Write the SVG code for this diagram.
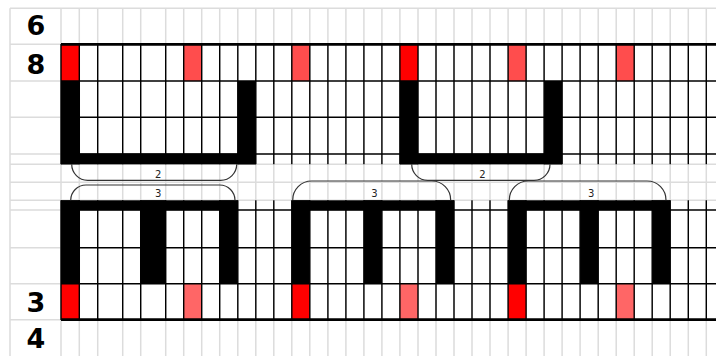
<svg xmlns="http://www.w3.org/2000/svg" width="716" height="356" viewBox="0 0 716 356">
<style>
.bg{fill:#ffffff}
.lg{stroke:#dcdcdc;stroke-width:1.5;fill:none}
.bk{stroke:#000;stroke-width:1.4;fill:none}
.thick{stroke:#000;stroke-width:2.8;fill:none}
.bar{fill:#000}
.r1{fill:#ff0000}
.r2{fill:#ff4d4d}
.r3{fill:#ff6666}
.br{stroke:#333;stroke-width:1.2;fill:none}
.big{font-family:"DejaVu Sans",sans-serif;font-weight:bold;font-size:27px;fill:#000;text-anchor:middle}
.sm{font-family:"DejaVu Sans",sans-serif;font-size:10px;fill:#222;text-anchor:middle}
</style>
<rect class="bg" x="0" y="0" width="716" height="356"/>
<g id="background-grid">
<path class="lg" d="M10 8.3V356M61 8.3V356M79.3 8.3V356M97.7 8.3V356M122.7 8.3V356M140.7 8.3V356M165.7 8.3V356M183.7 8.3V356M201.7 8.3V356M219.7 8.3V356M237.8 8.3V356M255.8 8.3V356M273.8 8.3V356M291.8 8.3V356M309.8 8.3V356M327.9 8.3V356M345.9 8.3V356M363.9 8.3V356M381.9 8.3V356M399.9 8.3V356M418 8.3V356M436 8.3V356M454 8.3V356M472 8.3V356M490 8.3V356M508.1 8.3V356M526.1 8.3V356M544.1 8.3V356M562.1 8.3V356M580.1 8.3V356M598.2 8.3V356M616.2 8.3V356M634.2 8.3V356M652.2 8.3V356M670.2 8.3V356M688.3 8.3V356M706.3 8.3V356"/>
<path class="lg" d="M10 8.3H716M10 44.3H61M10 81H61M10 117.3H61M10 154H61M10 164.3H716M10 182.3H716M10 200.3H716M10 210H61M10 247.7H61M10 283.7H61M10 319.7H61"/>
</g>
<g id="row-labels">
<text class="big" x="36" y="35">6</text>
<text class="big" x="36" y="74">8</text>
<text class="big" x="36" y="312">3</text>
<text class="big" x="36" y="348">4</text>
</g>
<g id="red-cells">
<rect class="r1" x="61" y="44.3" width="18.3" height="36.7"/>
<rect class="r2" x="183.7" y="44.3" width="18" height="36.7"/>
<rect class="r2" x="291.8" y="44.3" width="18" height="36.7"/>
<rect class="r1" x="399.9" y="44.3" width="18.1" height="36.7"/>
<rect class="r2" x="508.1" y="44.3" width="18" height="36.7"/>
<rect class="r2" x="616.2" y="44.3" width="18" height="36.7"/>
<rect class="r1" x="61" y="283.7" width="18.3" height="36"/>
<rect class="r3" x="183.7" y="283.7" width="18" height="36"/>
<rect class="r1" x="291.8" y="283.7" width="18" height="36"/>
<rect class="r3" x="399.9" y="283.7" width="18.1" height="36"/>
<rect class="r1" x="508.1" y="283.7" width="18" height="36"/>
<rect class="r3" x="616.2" y="283.7" width="18" height="36"/>
</g>
<g id="chart-upper">
<path class="bk" d="M61 44V164.3M79.3 44V164.3M97.7 44V164.3M122.7 44V164.3M140.7 44V164.3M165.7 44V164.3M183.7 44V164.3M201.7 44V164.3M219.7 44V164.3M237.8 44V164.3M255.8 44V164.3M273.8 44V164.3M291.8 44V164.3M309.8 44V164.3M327.9 44V164.3M345.9 44V164.3M363.9 44V164.3M381.9 44V164.3M399.9 44V164.3M418 44V164.3M436 44V164.3M454 44V164.3M472 44V164.3M490 44V164.3M508.1 44V164.3M526.1 44V164.3M544.1 44V164.3M562.1 44V164.3M580.1 44V164.3M598.2 44V164.3M616.2 44V164.3M634.2 44V164.3M652.2 44V164.3M670.2 44V164.3M688.3 44V164.3M706.3 44V164.3"/>
<path class="bk" d="M61 81H716M61 117.3H716M61 154H716"/>
<path class="thick" d="M61 44.3H716"/>
</g>
<g id="chart-lower">
<path class="bk" d="M61 200.3V320M79.3 200.3V320M97.7 200.3V320M122.7 200.3V320M140.7 200.3V320M165.7 200.3V320M183.7 200.3V320M201.7 200.3V320M219.7 200.3V320M237.8 200.3V320M255.8 200.3V320M273.8 200.3V320M291.8 200.3V320M309.8 200.3V320M327.9 200.3V320M345.9 200.3V320M363.9 200.3V320M381.9 200.3V320M399.9 200.3V320M418 200.3V320M436 200.3V320M454 200.3V320M472 200.3V320M490 200.3V320M508.1 200.3V320M526.1 200.3V320M544.1 200.3V320M562.1 200.3V320M580.1 200.3V320M598.2 200.3V320M616.2 200.3V320M634.2 200.3V320M652.2 200.3V320M670.2 200.3V320M688.3 200.3V320M706.3 200.3V320"/>
<path class="bk" d="M61 210H716M61 247.7H716M61 283.7H716"/>
<path class="thick" d="M61 319.7H716"/>
</g>
<g id="motif-u-1">
<rect class="bar" x="61" y="81" width="18.3" height="83.3"/>
<rect class="bar" x="61" y="153.5" width="194.8" height="10.8"/>
<rect class="bar" x="237.8" y="81" width="18" height="83.3"/>
</g>
<g id="motif-u-2">
<rect class="bar" x="399.9" y="81" width="18.1" height="83.3"/>
<rect class="bar" x="399.9" y="153.5" width="162.2" height="10.8"/>
<rect class="bar" x="544.1" y="81" width="18" height="83.3"/>
</g>
<g id="motif-t-1">
<rect class="bar" x="61" y="200.3" width="176.8" height="9.9"/>
<rect class="bar" x="61" y="200.3" width="18.3" height="83.4"/>
<rect class="bar" x="140.7" y="200.3" width="25" height="83.4"/>
<rect class="bar" x="219.7" y="200.3" width="18.1" height="83.4"/>
</g>
<g id="motif-t-2">
<rect class="bar" x="291.8" y="200.3" width="162.2" height="9.9"/>
<rect class="bar" x="291.8" y="200.3" width="18" height="83.4"/>
<rect class="bar" x="363.9" y="200.3" width="18" height="83.4"/>
<rect class="bar" x="436" y="200.3" width="18" height="83.4"/>
</g>
<g id="motif-t-3">
<rect class="bar" x="508.1" y="200.3" width="162.1" height="9.9"/>
<rect class="bar" x="508.1" y="200.3" width="18" height="83.4"/>
<rect class="bar" x="580.1" y="200.3" width="18.1" height="83.4"/>
<rect class="bar" x="652.2" y="200.3" width="18" height="83.4"/>
</g>
<g id="connectors">
<path class="br" d="M71.7 164.3A16 16 0 0 0 87.7 180.3H220.7A16 16 0 0 0 236.7 164.3"/>
<path class="br" d="M70.7 200.3A15.3 15.3 0 0 1 86 185H219.7A15.3 15.3 0 0 1 235 200.3"/>
<path class="br" d="M411.7 164.3A16 16 0 0 0 427.7 180.3H534A16 16 0 0 0 550 164.3"/>
<path class="br" d="M292.7 200.3A19 19 0 0 1 311.7 181H431.7A19 19 0 0 1 450.7 200.3"/>
<path class="br" d="M509.3 200.3A19 19 0 0 1 528.3 181H647A19 19 0 0 1 666 200.3"/>
</g>
<g id="bracket-labels">
<text class="sm" x="158.3" y="178.3">2</text>
<text class="sm" x="158.3" y="196.7">3</text>
<text class="sm" x="482.5" y="178.3">2</text>
<text class="sm" x="374.5" y="196.7">3</text>
<text class="sm" x="591.2" y="196.7">3</text>
</g>
</svg>
